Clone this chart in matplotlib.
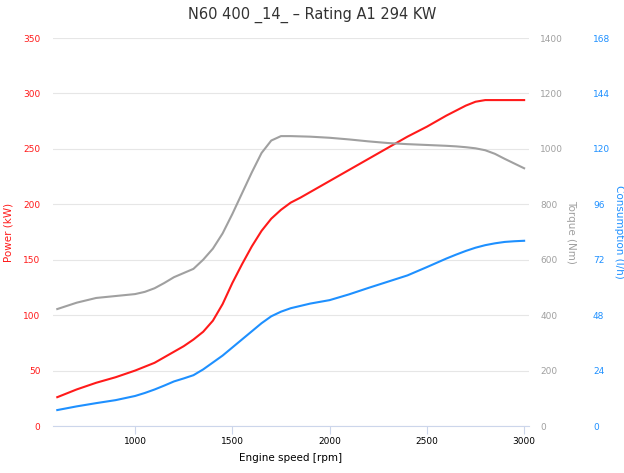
import matplotlib
matplotlib.use("Agg")
import matplotlib.pyplot as plt

# engine speed [rpm]
rpm = [600, 700, 800, 900, 1000, 1050, 1100, 1150, 1200, 1250, 1300, 1350, 1400, 1450, 1500,
       1550, 1600, 1650, 1700, 1750, 1800, 1850, 1900, 2000, 2100, 2200, 2300,
       2400, 2500, 2600, 2650, 2700, 2750, 2800, 2850, 2900, 2950, 3000]

# power (kW)
power = [26, 33, 39, 44, 50, 53.5, 57, 62, 67, 72, 78, 85, 95, 110, 129,
         146, 162, 176, 187, 195, 201.5, 206, 211, 221, 231, 241, 251,
         261, 270, 280, 284.5, 289, 292.5, 294, 294, 294, 294, 294]

# torque (Nm)
torque = [422, 445, 462, 469, 476, 484, 497, 516, 537, 552, 567, 600, 640, 695, 765,
          840, 915, 985, 1030, 1046, 1046, 1045, 1044, 1040, 1034, 1027, 1021,
          1017, 1014, 1011, 1009, 1006, 1002, 995, 982, 964, 947, 930]

# consumption (l/h)
consumption = [6.9, 8.5, 9.9, 11.2, 13, 14.3, 15.8, 17.5, 19.3, 20.6, 22, 24.5, 27.5, 30.5, 34,
               37.5, 41, 44.5, 47.5, 49.5, 51, 52, 53, 54.5, 57, 59.8, 62.5,
               65.2, 68.8, 72.5, 74.2, 75.8, 77.2, 78.3, 79.1, 79.7, 80, 80.2]

power_ticks = [0, 50, 100, 150, 200, 250, 300, 350]
torque_ticks = [0, 200, 400, 600, 800, 1000, 1200, 1400]
cons_ticks = [0, 24, 48, 72, 96, 120, 144, 168]
rpm_ticks = [1000, 1500, 2000, 2500, 3000]

RED = "#ff1a1a"
GRAY = "#a0a0a0"
BLUE = "#1e90ff"

fig = plt.figure(figsize=(6.24, 4.73), dpi=100)
ax = fig.add_axes([53 / 624, 1 - 426 / 473, 476 / 624, 388 / 473])
ax2 = ax.twinx()
ax3 = ax.twinx()

ax.plot(rpm, power, color=RED, linewidth=1.5, zorder=3)
ax2.plot(rpm, torque, color=GRAY, linewidth=1.5)
ax3.plot(rpm, consumption, color=BLUE, linewidth=1.5)

ax.set_xlim(578, 3025)
ax.set_ylim(0, 350)
ax2.set_ylim(0, 1400)
ax3.set_ylim(0, 168)
ax.set_xticks(rpm_ticks)
ax.set_yticks(power_ticks)
ax2.set_yticks(torque_ticks)
ax3.set_yticks(cons_ticks)

for a in (ax, ax2, ax3):
    for s in a.spines.values():
        s.set_visible(False)

ax.spines["bottom"].set_visible(True)
ax.spines["bottom"].set_color("#ccd6eb")
ax.grid(axis="y", color="#e6e6e6", linewidth=0.8)
ax.set_axisbelow(True)

ax.tick_params(axis="x", length=6, width=0.8, color="#ccd6eb", labelsize=6.5, pad=2)
ax.tick_params(axis="y", length=0, labelsize=6.5, labelcolor=RED, pad=9)
ax2.tick_params(axis="y", length=0, labelsize=6.5, labelcolor=GRAY, pad=8)
ax3.tick_params(axis="y", length=0, labelsize=6.5, labelcolor=BLUE, pad=46)

ax.set_xlabel("Engine speed [rpm]", fontsize=7.5, labelpad=5)
ax.set_ylabel("Power (kW)", fontsize=7.5, color=RED)
ax.yaxis.set_label_coords(-0.082, 0.5)
ax2.set_ylabel("Torque (Nm)", fontsize=7.5, color=GRAY, rotation=270, va="center")
ax2.yaxis.set_label_coords(1.088, 0.5)
ax3.set_ylabel("Consumption (l/h)", fontsize=7.5, color=BLUE, rotation=270, va="center")
ax3.yaxis.set_label_coords(1.19, 0.5)

fig.text(0.5, 1 - 15 / 473, "N60 400 _14_ \u2013 Rating A1 294 KW", ha="center", va="center",
         fontsize=10.5, color="#333333")

fig.savefig("out.png", dpi=100)
